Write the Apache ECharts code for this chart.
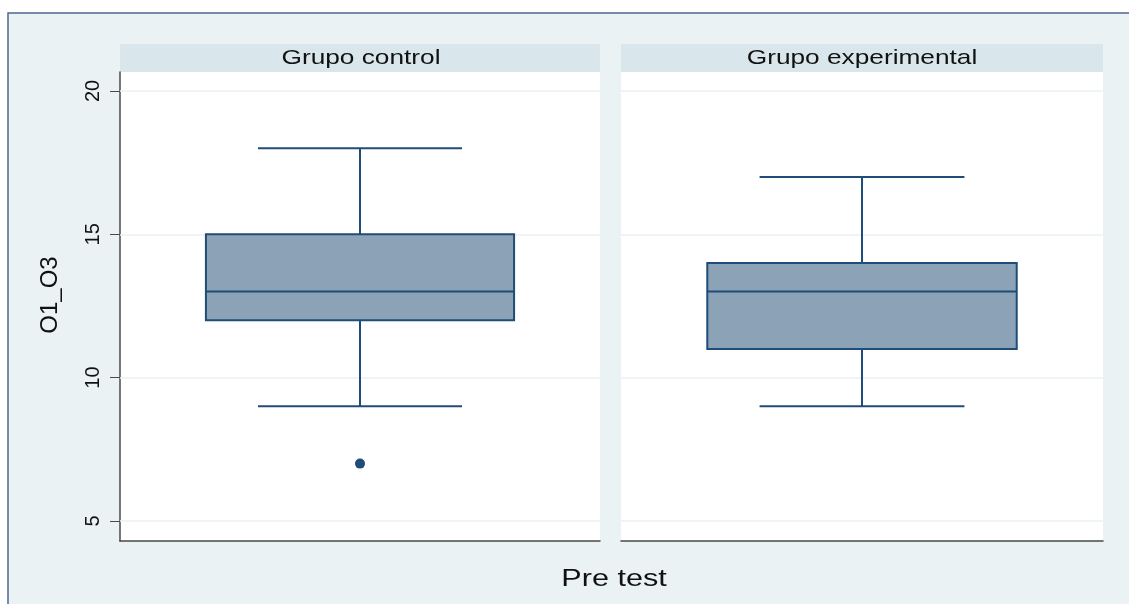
<!DOCTYPE html>
<html>
<head>
<meta charset="utf-8">
<script src="https://cdn.jsdelivr.net/npm/echarts@6/dist/echarts.min.js"></script>
<style>
html,body{margin:0;padding:0;background:#fff;}
#chart{width:1129px;height:604px;}
</style>
</head>
<body>
<div id="chart"></div>
<script>
// ---- data ----
const categories = ['Grupo control', 'Grupo experimental'];
// [lower whisker, Q1, median, Q3, upper whisker]
const controlBox = [9, 12, 13, 15, 18];
const experimentalBox = [9, 11, 13, 14, 17];
const controlOutliers = [7];
const experimentalOutliers = [];
const yTicks = [5, 10, 15, 20];
const yTitle = 'O1_O3';
const xTitle = 'Pre test';

// ---- styles ----
const NAVY = '#1F4C78';
const BOXFILL = '#8CA2B7';
const BG = '#EAF2F3';
const STRIP = '#D9E6EB';
const AXIS = '#4a4a4a';
const FONT = 'Liberation Sans, Arial, sans-serif';

const chart = echarts.init(document.getElementById('chart'), null, {renderer: 'canvas'});

function renderBox(params, api) {
  const x = api.value(0);
  const lo = api.value(1), q1 = api.value(2), med = api.value(3), q3 = api.value(4), hi = api.value(5);
  const band = api.size([1, 0])[0];
  const boxW = band * 0.642;
  const capW = band * 0.425;
  const cx = api.coord([x, med])[0];
  const y = v => api.coord([x, v])[1];
  const ls = {stroke: NAVY, lineWidth: 2};
  return {
    type: 'group',
    children: [
      {type: 'line', shape: {x1: cx, y1: y(hi), x2: cx, y2: y(q3)}, style: ls},
      {type: 'line', shape: {x1: cx, y1: y(q1), x2: cx, y2: y(lo)}, style: ls},
      {type: 'line', shape: {x1: cx - capW / 2, y1: y(hi), x2: cx + capW / 2, y2: y(hi)}, style: ls},
      {type: 'line', shape: {x1: cx - capW / 2, y1: y(lo), x2: cx + capW / 2, y2: y(lo)}, style: ls},
      {type: 'rect', shape: {x: cx - boxW / 2, y: y(q3), width: boxW, height: y(q1) - y(q3)},
        style: {fill: BOXFILL, stroke: NAVY, lineWidth: 2}},
      {type: 'line', shape: {x1: cx - boxW / 2, y1: y(med), x2: cx + boxW / 2, y2: y(med)}, style: ls}
    ]
  };
}

const grids = [
  {left: 120, right: 529, top: 72, bottom: 63},
  {left: 621, right: 26, top: 72, bottom: 63}
];
const boxes = [controlBox, experimentalBox];
const outs = [controlOutliers, experimentalOutliers];

const yMin = 4.3, yMax = 20.66;

const option = {
  backgroundColor: 'transparent',
  animation: false,
  grid: grids.map(g => Object.assign({show: true, backgroundColor: '#ffffff', borderWidth: 0}, g)),
  xAxis: categories.map((c, i) => ({
    type: 'category', gridIndex: i, data: [c],
    axisLine: {show: true, lineStyle: {color: AXIS, width: 1.5}},
    axisTick: {show: false}, axisLabel: {show: false}, splitLine: {show: false}
  })),
  yAxis: categories.map((c, i) => ({
    type: 'value', gridIndex: i, min: yMin, max: yMax,
    axisLine: {show: i === 0, lineStyle: {color: AXIS, width: 1.5}},
    axisTick: {show: i === 0, length: 10, customValues: yTicks, lineStyle: {color: AXIS, width: 1}},
    axisLabel: {show: i === 0, customValues: yTicks, rotate: 90, margin: 17,
      fontFamily: FONT, fontSize: 20, color: '#111'},
    splitLine: {show: false}
  })),
  series: [].concat(
    // grid lines (drawn under the boxes)
    categories.map((c, i) => ({
      type: 'scatter', xAxisIndex: i, yAxisIndex: i, data: [], z: 1, silent: true,
      markLine: {
        silent: true, symbol: 'none', label: {show: false}, z: 1,
        lineStyle: {color: BG, width: 1.5, type: 'solid'},
        data: yTicks.map(v => ({yAxis: v}))
      }
    })),
    categories.map((c, i) => ({
      type: 'custom', xAxisIndex: i, yAxisIndex: i,
      renderItem: renderBox,
      encode: {x: 0, y: [1, 2, 3, 4, 5]},
      data: [[0].concat(boxes[i])],
      z: 3
    })),
    categories.map((c, i) => ({
      type: 'scatter', xAxisIndex: i, yAxisIndex: i,
      symbol: 'circle', symbolSize: 10,
      itemStyle: {color: NAVY, opacity: 1},
      data: outs[i].map(v => [0, v]),
      z: 4
    }))
  ),
  graphic: [
    {type: 'rect', z: -100, shape: {x: 8, y: 13, width: 1140, height: 620},
      style: {fill: BG, stroke: '#4F6794', lineWidth: 1.5}},
    {type: 'rect', shape: {x: 120, y: 44, width: 480, height: 28}, style: {fill: STRIP}},
    {type: 'rect', shape: {x: 621, y: 44, width: 482, height: 28}, style: {fill: STRIP}},
    {type: 'text', x: 361, y: 58, scaleX: 1.25, style: {text: categories[0], fill: '#111', fontSize: 21,
      fontFamily: FONT, align: 'center', verticalAlign: 'middle'}},
    {type: 'text', x: 862, y: 58, scaleX: 1.25, style: {text: categories[1], fill: '#111', fontSize: 21,
      fontFamily: FONT, align: 'center', verticalAlign: 'middle'}},
    {type: 'text', x: 614, y: 580, scaleX: 1.33, style: {text: xTitle, fill: '#111', fontSize: 23,
      fontFamily: FONT, align: 'center', verticalAlign: 'middle'}},
    {type: 'text', x: 50, y: 295, rotation: Math.PI / 2, style: {text: yTitle, fill: '#111', fontSize: 24,
      fontFamily: FONT, align: 'center', verticalAlign: 'middle'}}
  ]
};
chart.setOption(option);
</script>
</body>
</html>
